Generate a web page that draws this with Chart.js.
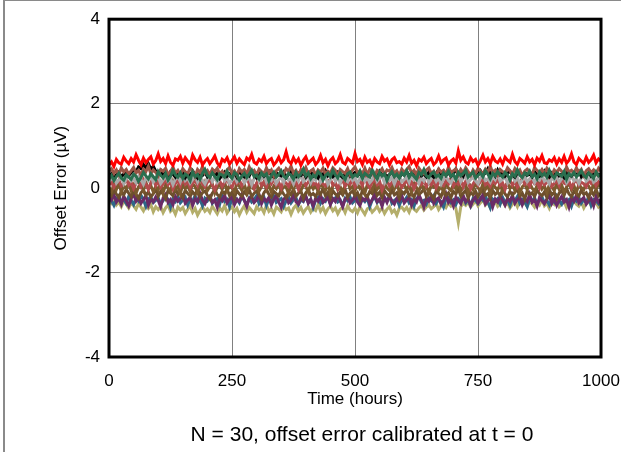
<!DOCTYPE html>
<html>
<head>
<meta charset="utf-8">
<script src="https://cdn.jsdelivr.net/npm/chart.js@4.4.1/dist/chart.umd.min.js"></script>
<style>
  html, body { margin: 0; padding: 0; background: #fff; }
  #wrap { position: relative; width: 621px; height: 452px; }
  #frame { position: absolute; left: 3px; top: 0; right: 0; bottom: 0; border-left: 2px solid #8a8a8a; border-top: 1px solid #8a8a8a; pointer-events: none; }
  canvas { position: absolute; left: 0; top: 0; }
</style>
</head>
<body>
<div id="wrap">
  <canvas id="driftChart" width="621" height="452"></canvas>
  <div id="frame"></div>
</div>
<script>
// time axis (hours)
const hours = [
    0, 5, 10, 15, 20, 25, 30, 35, 40, 45,
    50, 55, 60, 65, 70, 75, 80, 85, 90, 95,
    100, 105, 110, 115, 120, 125, 130, 135, 140, 145,
    150, 155, 160, 165, 170, 175, 180, 185, 190, 195,
    200, 205, 210, 215, 220, 225, 230, 235, 240, 245,
    250, 255, 260, 265, 270, 275, 280, 285, 290, 295,
    300, 305, 310, 315, 320, 325, 330, 335, 340, 345,
    350, 355, 360, 365, 370, 375, 380, 385, 390, 395,
    400, 405, 410, 415, 420, 425, 430, 435, 440, 445,
    450, 455, 460, 465, 470, 475, 480, 485, 490, 495,
    500, 505, 510, 515, 520, 525, 530, 535, 540, 545,
    550, 555, 560, 565, 570, 575, 580, 585, 590, 595,
    600, 605, 610, 615, 620, 625, 630, 635, 640, 645,
    650, 655, 660, 665, 670, 675, 680, 685, 690, 695,
    700, 705, 710, 715, 720, 725, 730, 735, 740, 745,
    750, 755, 760, 765, 770, 775, 780, 785, 790, 795,
    800, 805, 810, 815, 820, 825, 830, 835, 840, 845,
    850, 855, 860, 865, 870, 875, 880, 885, 890, 895,
    900, 905, 910, 915, 920, 925, 930, 935, 940, 945,
    950, 955, 960, 965, 970, 975, 980, 985, 990, 995,
    1000
];

const xTicks = [0, 250, 500, 750, 1000];
const yTicks = [-4, -2, 0, 2, 4];

// offset error per unit, µV
const unitRed = [
    0.55, 0.62, 0.51, 0.68, 0.60, 0.57, 0.73, 0.64, 0.58, 0.70,
    0.62, 0.79, 0.66, 0.55, 0.71, 0.60, 0.68, 0.74, 0.57, 0.65,
    0.81, 0.63, 0.70, 0.58, 0.76, 0.61, 0.54, 0.69, 0.66, 0.75,
    0.59, 0.72, 0.64, 0.56, 0.78, 0.67, 0.61, 0.73, 0.55, 0.64,
    0.70, 0.58, 0.66, 0.76, 0.60, 0.52, 0.68, 0.63, 0.72, 0.57,
    0.65, 0.74, 0.59, 0.69, 0.62, 0.56, 0.71, 0.66, 0.80, 0.61,
    0.57, 0.68, 0.63, 0.75, 0.58, 0.66, 0.70, 0.55, 0.62, 0.73,
    0.60, 0.67, 0.86, 0.64, 0.58, 0.72, 0.61, 0.69, 0.54, 0.66,
    0.74, 0.59, 0.65, 0.71, 0.56, 0.63, 0.77, 0.60, 0.68, 0.53,
    0.66, 0.72, 0.58, 0.64, 0.79, 0.61, 0.57, 0.70, 0.65, 0.59,
    0.82, 0.63, 0.68, 0.56, 0.73, 0.61, 0.66, 0.54, 0.70, 0.62,
    0.58, 0.75, 0.64, 0.69, 0.55, 0.67, 0.72, 0.60, 0.63, 0.57,
    0.71, 0.62, 0.77, 0.59, 0.66, 0.53, 0.68, 0.64, 0.73, 0.58,
    0.65, 0.70, 0.56, 0.62, 0.76, 0.60, 0.67, 0.71, 0.55, 0.64,
    0.69, 0.59, 0.88, 0.66, 0.74, 0.61, 0.57, 0.72, 0.63, 0.68,
    0.54, 0.65, 0.78, 0.62, 0.70, 0.58, 0.75, 0.64, 0.60, 0.69,
    0.57, 0.73, 0.66, 0.61, 0.80, 0.63, 0.56, 0.70, 0.65, 0.59,
    0.74, 0.62, 0.68, 0.55, 0.71, 0.64, 0.77, 0.60, 0.58, 0.67,
    0.63, 0.72, 0.57, 0.69, 0.61, 0.75, 0.59, 0.66, 0.81, 0.62,
    0.56, 0.70, 0.64, 0.58, 0.73, 0.61, 0.67, 0.78, 0.60, 0.69,
    0.64
];
const unitBlack = [
    0.28, 0.34, 0.22, 0.31, 0.38, 0.27, 0.33, 0.41, 0.30, 0.36,
    0.44, 0.39, 0.50, 0.46, 0.56, 0.48, 0.58, 0.45, 0.52, 0.40,
    0.35, 0.42, 0.31, 0.37, 0.28, 0.39, 0.33, 0.26, 0.36, 0.30,
    0.38, 0.25, 0.34, 0.29, 0.41, 0.32, 0.24, 0.35, 0.30, 0.37,
    0.27, 0.33, 0.40, 0.29, 0.35, 0.23, 0.31, 0.38, 0.28, 0.34,
    0.30, 0.36, 0.26, 0.42, 0.32, 0.27, 0.35, 0.29, 0.39, 0.31,
    0.24, 0.33, 0.37, 0.28, 0.34, 0.40, 0.30, 0.26, 0.36, 0.32,
    0.29, 0.38, 0.25, 0.33, 0.44, 0.31, 0.27, 0.35, 0.30, 0.37,
    0.26, 0.34, 0.39, 0.28, 0.32, 0.24, 0.36, 0.31, 0.41, 0.29,
    0.35, 0.27, 0.33, 0.38, 0.30, 0.25, 0.34, 0.40, 0.28, 0.32,
    0.37, 0.29, 0.35, 0.26, 0.43, 0.31, 0.28, 0.36, 0.33, 0.24,
    0.39, 0.30, 0.34, 0.27, 0.32, 0.38, 0.29, 0.35, 0.25, 0.33,
    0.31, 0.40, 0.28, 0.36, 0.30, 0.34, 0.42, 0.29, 0.33, 0.27,
    0.38, 0.31, 0.26, 0.35, 0.44, 0.33, 0.40, 0.30, 0.37, 0.28,
    0.34, 0.45, 0.32, 0.39, 0.29, 0.42, 0.35, 0.31, 0.38, 0.27,
    0.33, 0.41, 0.30, 0.36, 0.46, 0.34, 0.39, 0.29, 0.43, 0.32,
    0.37, 0.28, 0.35, 0.40, 0.31, 0.26, 0.36, 0.33, 0.29, 0.38,
    0.30, 0.34, 0.27, 0.39, 0.32, 0.28, 0.35, 0.41, 0.30, 0.26,
    0.36, 0.31, 0.38, 0.29, 0.33, 0.25, 0.37, 0.32, 0.28, 0.35,
    0.30, 0.39, 0.27, 0.34, 0.31, 0.36, 0.28, 0.33, 0.38, 0.30,
    0.34
];
const unitGreen = [
    0.22, 0.30, 0.18, 0.27, 0.35, 0.24, 0.19, 0.31, 0.26, 0.21,
    0.33, 0.28, 0.16, 0.25, 0.37, 0.29, 0.22, 0.34, 0.27, 0.20,
    0.39, 0.30, 0.24, 0.35, 0.19, 0.28, 0.42, 0.31, 0.26, 0.36,
    0.23, 0.33, 0.29, 0.18, 0.38, 0.27, 0.32, 0.21, 0.35, 0.44,
    0.30, 0.25, 0.36, 0.28, 0.20, 0.34, 0.31, 0.26, 0.40, 0.29,
    0.23, 0.37, 0.32, 0.19, 0.28, 0.35, 0.25, 0.33, 0.42, 0.27,
    0.31, 0.22, 0.36, 0.29, 0.34, 0.17, 0.30, 0.38, 0.26, 0.32,
    0.41, 0.28, 0.24, 0.35, 0.30, 0.21, 0.37, 0.27, 0.33, 0.45,
    0.29, 0.36, 0.22, 0.31, 0.26, 0.39, 0.33, 0.19, 0.30, 0.35,
    0.27, 0.42, 0.31, 0.24, 0.36, 0.29, 0.20, 0.34, 0.38, 0.26,
    0.32, 0.28, 0.40, 0.23, 0.35, 0.30, 0.26, 0.43, 0.31, 0.22,
    0.37, 0.29, 0.34, 0.18, 0.31, 0.39, 0.27, 0.33, 0.24, 0.36,
    0.30, 0.41, 0.26, 0.35, 0.28, 0.21, 0.37, 0.32, 0.44, 0.29,
    0.25, 0.34, 0.38, 0.27, 0.31, 0.23, 0.36, 0.30, 0.40, 0.28,
    0.33, 0.20, 0.37, 0.29, 0.35, 0.42, 0.26, 0.32, 0.38, 0.24,
    0.30, 0.36, 0.27, 0.41, 0.33, 0.22, 0.35, 0.29, 0.39, 0.31,
    0.26, 0.37, 0.32, 0.19, 0.34, 0.28, 0.43, 0.30, 0.25, 0.36,
    0.31, 0.40, 0.27, 0.33, 0.22, 0.38, 0.29, 0.35, 0.26, 0.42,
    0.30, 0.24, 0.36, 0.32, 0.28, 0.39, 0.21, 0.34, 0.29, 0.37,
    0.27, 0.33, 0.41, 0.30, 0.25, 0.36, 0.31, 0.23, 0.38, 0.29,
    0.33
];
const unitGray = [
    0.15, 0.22, 0.28, 0.12, 0.19, 0.25, 0.10, 0.21, 0.30, 0.17,
    0.23, 0.13, 0.27, 0.20, 0.09, 0.24, 0.18, 0.31, 0.14, 0.22,
    0.26, 0.11, 0.19, 0.29, 0.16, 0.23, 0.08, 0.21, 0.27, 0.15,
    0.32, 0.18, 0.24, 0.12, 0.20, 0.28, 0.14, 0.25, 0.19, 0.10,
    0.22, 0.30, 0.16, 0.26, 0.13, 0.21, 0.33, 0.17, 0.24, 0.11,
    0.19, 0.27, 0.15, 0.23, 0.29, 0.12, 0.20, 0.25, 0.08, 0.22,
    0.28, 0.16, 0.21, 0.31, 0.14, 0.24, 0.18, 0.27, 0.11, 0.20,
    0.25, 0.13, 0.30, 0.19, 0.23, 0.10, 0.26, 0.17, 0.32, 0.15,
    0.21, 0.28, 0.12, 0.24, 0.18, 0.29, 0.14, 0.22, 0.26, 0.09,
    0.19, 0.31, 0.16, 0.23, 0.12, 0.27, 0.20, 0.15, 0.29, 0.18,
    0.24, 0.11, 0.22, 0.30, 0.17, 0.25, 0.13, 0.20, 0.34, 0.16,
    0.23, 0.28, 0.12, 0.21, 0.18, 0.26, 0.10, 0.24, 0.29, 0.15,
    0.20, 0.27, 0.14, 0.32, 0.19, 0.23, 0.11, 0.25, 0.17, 0.30,
    0.13, 0.22, 0.28, 0.16, 0.24, 0.09, 0.21, 0.27, 0.18, 0.12,
    0.26, 0.19, 0.31, 0.15, 0.23, 0.28, 0.13, 0.20, 0.25, 0.17,
    0.10, 0.24, 0.29, 0.18, 0.22, 0.14, 0.27, 0.20, 0.33, 0.16,
    0.21, 0.26, 0.12, 0.23, 0.30, 0.17, 0.25, 0.11, 0.19, 0.28,
    0.15, 0.22, 0.27, 0.13, 0.24, 0.19, 0.31, 0.16, 0.21, 0.10,
    0.25, 0.18, 0.29, 0.14, 0.22, 0.26, 0.12, 0.20, 0.28, 0.17,
    0.23, 0.11, 0.24, 0.30, 0.16, 0.21, 0.27, 0.14, 0.19, 0.25,
    0.20
];
const unitRosy = [
    0.40, 0.46, 0.35, 0.43, 0.31, 0.48, 0.38, 0.44, 0.33, 0.41,
    0.49, 0.36, 0.42, 0.30, 0.45, 0.39, 0.52, 0.34, 0.43, 0.37,
    0.29, 0.44, 0.40, 0.47, 0.33, 0.38, 0.50, 0.35, 0.42, 0.31,
    0.46, 0.39, 0.34, 0.48, 0.41, 0.28, 0.44, 0.37, 0.51, 0.36,
    0.42, 0.32, 0.45, 0.39, 0.47, 0.34, 0.40, 0.29, 0.43, 0.49,
    0.35, 0.41, 0.30, 0.46, 0.38, 0.44, 0.33, 0.50, 0.37, 0.42,
    0.31, 0.45, 0.39, 0.34, 0.48, 0.36, 0.43, 0.28, 0.41, 0.47,
    0.38, 0.33, 0.46, 0.40, 0.52, 0.35, 0.42, 0.31, 0.44, 0.37,
    0.49, 0.34, 0.41, 0.45, 0.30, 0.43, 0.38, 0.47, 0.33, 0.40,
    0.36, 0.48, 0.42, 0.29, 0.44, 0.39, 0.35, 0.46, 0.31, 0.43,
    0.50, 0.37, 0.41, 0.34, 0.47, 0.32, 0.45, 0.39, 0.28, 0.42,
    0.38, 0.46, 0.33, 0.43, 0.40, 0.49, 0.35, 0.41, 0.30, 0.45,
    0.37, 0.44, 0.51, 0.36, 0.42, 0.31, 0.47, 0.39, 0.34, 0.43,
    0.48, 0.35, 0.40, 0.29, 0.45, 0.38, 0.42, 0.33, 0.50, 0.37,
    0.41, 0.46, 0.32, 0.44, 0.36, 0.48, 0.39, 0.30, 0.43, 0.35,
    0.47, 0.40, 0.34, 0.45, 0.38, 0.52, 0.36, 0.42, 0.31, 0.44,
    0.39, 0.35, 0.48, 0.41, 0.33, 0.46, 0.37, 0.43, 0.29, 0.40,
    0.45, 0.38, 0.32, 0.49, 0.42, 0.36, 0.44, 0.34, 0.47, 0.39,
    0.31, 0.43, 0.37, 0.46, 0.40, 0.33, 0.50, 0.38, 0.42, 0.35,
    0.48, 0.36, 0.44, 0.30, 0.41, 0.46, 0.37, 0.43, 0.34, 0.47,
    0.40
];
const unitIndian = [
    0.08, 0.15, 0.02, 0.12, 0.19, 0.05, 0.10, 0.22, 0.07, 0.14,
    -0.01, 0.11, 0.17, 0.04, 0.20, 0.09, -0.03, 0.13, 0.24, 0.06,
    0.16, 0.02, 0.10, 0.21, 0.08, 0.14, -0.02, 0.11, 0.18, 0.05,
    0.23, 0.09, 0.15, 0.01, 0.12, 0.19, 0.06, 0.25, 0.10, 0.03,
    0.14, 0.20, 0.07, -0.04, 0.11, 0.17, 0.04, 0.13, 0.22, 0.08,
    0.02, 0.16, 0.10, 0.19, 0.05, 0.12, 0.26, 0.09, 0.15, -0.01,
    0.11, 0.21, 0.06, 0.14, 0.03, 0.18, 0.10, 0.23, 0.07, 0.13,
    0.00, 0.17, 0.12, 0.04, 0.20, 0.09, 0.15, -0.03, 0.11, 0.19,
    0.06, 0.14, 0.24, 0.08, 0.12, 0.02, 0.18, 0.10, 0.05, 0.16,
    0.21, 0.07, 0.13, -0.02, 0.11, 0.19, 0.04, 0.15, 0.09, 0.22,
    0.03, 0.12, 0.17, 0.06, 0.25, 0.10, 0.01, 0.14, 0.20, 0.08,
    0.16, -0.04, 0.11, 0.18, 0.05, 0.13, 0.22, 0.07, 0.15, 0.02,
    0.10, 0.19, 0.06, 0.14, -0.01, 0.12, 0.23, 0.09, 0.17, 0.04,
    0.13, 0.08, 0.20, 0.01, 0.15, 0.11, 0.06, 0.18, 0.10, 0.24,
    0.05, 0.14, 0.09, 0.21, 0.03, 0.16, 0.12, -0.02, 0.10, 0.19,
    0.07, 0.15, 0.26, 0.08, 0.13, 0.04, 0.17, 0.11, 0.21, 0.06,
    0.12, -0.03, 0.14, 0.19, 0.07, 0.16, 0.02, 0.11, 0.23, 0.09,
    0.15, 0.05, 0.20, 0.10, 0.13, 0.00, 0.18, 0.08, 0.14, 0.22,
    0.04, 0.11, 0.17, 0.06, 0.24, 0.12, 0.09, 0.16, 0.01, 0.13,
    0.19, 0.07, 0.14, 0.10, 0.03, 0.18, 0.11, 0.21, 0.06, 0.15,
    0.10
];
const unitBrown = [
    0.02, -0.08, 0.09, -0.03, 0.13, -0.10, 0.05, 0.00, 0.11, -0.06,
    0.07, -0.12, 0.03, 0.10, -0.05, 0.14, -0.02, 0.06, -0.09, 0.04,
    -0.04, 0.12, -0.11, 0.08, 0.01, -0.07, 0.15, -0.03, 0.05, -0.13,
    0.09, -0.01, 0.06, -0.08, 0.11, 0.03, -0.10, 0.07, -0.04, 0.13,
    -0.06, 0.04, 0.10, -0.12, 0.02, 0.08, -0.03, 0.14, -0.07, 0.05,
    0.00, -0.09, 0.12, 0.04, -0.05, 0.09, -0.11, 0.06, 0.01, -0.02,
    0.11, -0.07, 0.03, 0.15, -0.04, 0.08, -0.10, 0.05, -0.01, 0.12,
    -0.08, 0.06, 0.02, -0.13, 0.09, -0.03, 0.13, 0.00, -0.06, 0.07,
    0.04, -0.10, 0.10, -0.02, 0.06, -0.08, 0.14, 0.01, -0.05, 0.09,
    -0.11, 0.05, 0.12, -0.04, 0.03, -0.09, 0.07, 0.16, -0.02, 0.04,
    -0.07, 0.10, -0.01, 0.06, -0.12, 0.08, 0.02, -0.05, 0.13, -0.03,
    0.05, -0.09, 0.11, 0.00, -0.06, 0.09, -0.02, 0.14, -0.10, 0.03,
    0.08, -0.04, 0.06, -0.11, 0.12, 0.01, -0.07, 0.10, -0.03, 0.05,
    -0.12, 0.07, 0.02, 0.13, -0.05, 0.04, -0.09, 0.11, 0.00, -0.06,
    0.09, -0.02, 0.15, -0.08, 0.03, 0.07, -0.11, 0.05, -0.04, 0.12,
    0.01, -0.07, 0.10, -0.03, 0.06, -0.13, 0.08, 0.02, -0.05, 0.11,
    -0.09, 0.04, 0.13, -0.01, 0.07, -0.06, 0.10, -0.10, 0.03, 0.09,
    -0.04, 0.12, 0.00, -0.08, 0.06, 0.14, -0.02, 0.05, -0.11, 0.08,
    0.03, -0.06, 0.11, -0.03, 0.07, -0.09, 0.02, 0.13, -0.05, 0.06,
    -0.10, 0.09, 0.01, -0.04, 0.12, 0.04, -0.07, 0.10, -0.02, 0.08,
    0.02
];
const unitDarkBrown = [
    -0.10, -0.18, -0.05, -0.14, -0.22, -0.08, -0.16, -0.03, -0.12, -0.20,
    -0.07, -0.15, -0.24, -0.11, -0.04, -0.17, -0.09, -0.21, -0.13, -0.02,
    -0.19, -0.08, -0.14, -0.25, -0.06, -0.12, -0.18, -0.01, -0.15, -0.10,
    -0.22, -0.05, -0.13, -0.19, -0.09, -0.16, -0.03, -0.20, -0.11, -0.07,
    -0.17, -0.26, -0.12, -0.04, -0.15, -0.21, -0.08, -0.13, -0.02, -0.18,
    -0.10, -0.23, -0.06, -0.14, -0.19, -0.09, -0.16, -0.04, -0.20, -0.12,
    -0.07, -0.17, -0.25, -0.11, -0.03, -0.15, -0.21, -0.08, -0.13, -0.18,
    -0.05, -0.14, -0.22, -0.10, -0.16, -0.02, -0.19, -0.12, -0.07, -0.24,
    -0.11, -0.04, -0.17, -0.13, -0.20, -0.08, -0.15, -0.01, -0.18, -0.10,
    -0.23, -0.06, -0.14, -0.19, -0.09, -0.16, -0.03, -0.21, -0.12, -0.07,
    -0.18, -0.11, -0.26, -0.05, -0.15, -0.20, -0.08, -0.13, -0.02, -0.17,
    -0.10, -0.22, -0.06, -0.14, -0.19, -0.04, -0.16, -0.11, -0.24, -0.08,
    -0.13, -0.03, -0.18, -0.12, -0.21, -0.07, -0.15, -0.10, -0.02, -0.19,
    -0.09, -0.16, -0.25, -0.06, -0.13, -0.20, -0.04, -0.17, -0.11, -0.22,
    -0.08, -0.14, -0.01, -0.19, -0.12, -0.05, -0.23, -0.10, -0.16, -0.07,
    -0.20, -0.11, -0.04, -0.17, -0.13, -0.24, -0.06, -0.15, -0.09, -0.18,
    -0.03, -0.14, -0.21, -0.08, -0.16, -0.10, -0.02, -0.19, -0.12, -0.26,
    -0.07, -0.15, -0.11, -0.20, -0.05, -0.13, -0.18, -0.09, -0.22, -0.04,
    -0.16, -0.10, -0.24, -0.12, -0.06, -0.17, -0.01, -0.14, -0.20, -0.08,
    -0.13, -0.19, -0.05, -0.15, -0.11, -0.23, -0.07, -0.16, -0.03, -0.18,
    -0.12
];
const unitPurple = [
    -0.20, -0.28, -0.16, -0.33, -0.24, -0.38, -0.19, -0.30, -0.42, -0.25,
    -0.14, -0.31, -0.22, -0.36, -0.27, -0.18, -0.40, -0.26, -0.33, -0.21,
    -0.29, -0.44, -0.23, -0.15, -0.34, -0.27, -0.39, -0.20, -0.31, -0.25,
    -0.17, -0.36, -0.28, -0.22, -0.41, -0.26, -0.32, -0.13, -0.29, -0.37,
    -0.24, -0.19, -0.34, -0.28, -0.45, -0.23, -0.30, -0.17, -0.35, -0.26,
    -0.21, -0.39, -0.27, -0.32, -0.16, -0.29, -0.43, -0.24, -0.20, -0.34,
    -0.28, -0.15, -0.37, -0.25, -0.31, -0.22, -0.40, -0.27, -0.18, -0.33,
    -0.46, -0.26, -0.21, -0.35, -0.29, -0.14, -0.32, -0.38, -0.23, -0.30,
    -0.19, -0.36, -0.27, -0.42, -0.24, -0.31, -0.17, -0.34, -0.28, -0.22,
    -0.39, -0.25, -0.32, -0.16, -0.30, -0.44, -0.26, -0.21, -0.35, -0.28,
    -0.18, -0.33, -0.41, -0.24, -0.29, -0.20, -0.37, -0.27, -0.15, -0.32,
    -0.26, -0.43, -0.22, -0.34, -0.19, -0.30, -0.38, -0.25, -0.31, -0.17,
    -0.35, -0.28, -0.21, -0.40, -0.26, -0.33, -0.16, -0.29, -0.45, -0.24,
    -0.31, -0.19, -0.36, -0.27, -0.23, -0.39, -0.30, -0.14, -0.34, -0.26,
    -0.42, -0.22, -0.29, -0.37, -0.18, -0.32, -0.25, -0.41, -0.28, -0.20,
    -0.35, -0.27, -0.16, -0.38, -0.30, -0.23, -0.44, -0.26, -0.33, -0.19,
    -0.29, -0.40, -0.24, -0.31, -0.17, -0.36, -0.27, -0.21, -0.39, -0.25,
    -0.32, -0.15, -0.34, -0.28, -0.43, -0.22, -0.30, -0.37, -0.26, -0.18,
    -0.36, -0.24, -0.41, -0.29, -0.20, -0.33, -0.27, -0.45, -0.23, -0.31,
    -0.17, -0.35, -0.28, -0.22, -0.38, -0.30, -0.25, -0.42, -0.19, -0.33,
    -0.27
];
const unitTeal = [
    -0.22, -0.30, -0.41, -0.25, -0.18, -0.33, -0.27, -0.36, -0.20, -0.29,
    -0.39, -0.24, -0.31, -0.17, -0.28, -0.43, -0.26, -0.21, -0.34, -0.29,
    -0.23, -0.37, -0.30, -0.19, -0.27, -0.45, -0.25, -0.32, -0.20, -0.35,
    -0.28, -0.22, -0.40, -0.26, -0.31, -0.18, -0.34, -0.27, -0.42, -0.24,
    -0.30, -0.21, -0.36, -0.29, -0.25, -0.38, -0.19, -0.32, -0.27, -0.44,
    -0.23, -0.31, -0.26, -0.35, -0.20, -0.29, -0.40, -0.24, -0.33, -0.27,
    -0.18, -0.37, -0.28, -0.22, -0.41, -0.26, -0.31, -0.19, -0.34, -0.29,
    -0.25, -0.43, -0.30, -0.21, -0.35, -0.27, -0.23, -0.39, -0.28, -0.32,
    -0.20, -0.34, -0.26, -0.46, -0.29, -0.22, -0.36, -0.25, -0.31, -0.18,
    -0.38, -0.27, -0.23, -0.33, -0.28, -0.42, -0.24, -0.30, -0.21, -0.35,
    -0.29, -0.19, -0.37, -0.26, -0.32, -0.24, -0.44, -0.28, -0.22, -0.34,
    -0.27, -0.40, -0.23, -0.30, -0.18, -0.36, -0.29, -0.25, -0.41, -0.27,
    -0.31, -0.22, -0.35, -0.28, -0.43, -0.25, -0.20, -0.33, -0.29, -0.38,
    -0.24, -0.30, -0.19, -0.36, -0.27, -0.32, -0.45, -0.26, -0.22, -0.34,
    -0.28, -0.39, -0.25, -0.31, -0.21, -0.35, -0.27, -0.42, -0.24, -0.30,
    -0.36, -0.23, -0.29, -0.19, -0.33, -0.47, -0.26, -0.31, -0.25, -0.38,
    -0.22, -0.34, -0.28, -0.41, -0.24, -0.30, -0.20, -0.36, -0.27, -0.32,
    -0.44, -0.25, -0.31, -0.23, -0.37, -0.28, -0.21, -0.35, -0.29, -0.40,
    -0.26, -0.33, -0.19, -0.30, -0.38, -0.24, -0.32, -0.27, -0.43, -0.25,
    -0.31, -0.22, -0.36, -0.28, -0.34, -0.20, -0.41, -0.27, -0.30, -0.37,
    -0.28
];
const unitKhaki = [
    -0.30, -0.36, -0.27, -0.40, -0.33, -0.44, -0.31, -0.38, -0.47, -0.35,
    -0.42, -0.50, -0.37, -0.45, -0.54, -0.41, -0.48, -0.39, -0.56, -0.44,
    -0.51, -0.43, -0.58, -0.47, -0.40, -0.55, -0.49, -0.62, -0.45, -0.52,
    -0.46, -0.60, -0.50, -0.42, -0.57, -0.48, -0.64, -0.53, -0.44, -0.55,
    -0.49, -0.58, -0.43, -0.52, -0.61, -0.47, -0.54, -0.41, -0.59, -0.50,
    -0.45, -0.56, -0.48, -0.63, -0.51, -0.42, -0.57, -0.46, -0.53, -0.60,
    -0.44, -0.52, -0.47, -0.58, -0.40, -0.55, -0.49, -0.61, -0.45, -0.50,
    -0.56, -0.43, -0.51, -0.47, -0.62, -0.48, -0.41, -0.54, -0.46, -0.59,
    -0.50, -0.44, -0.57, -0.48, -0.53, -0.39, -0.55, -0.46, -0.60, -0.49,
    -0.43, -0.54, -0.47, -0.61, -0.50, -0.45, -0.58, -0.42, -0.52, -0.56,
    -0.48, -0.59, -0.44, -0.53, -0.62, -0.49, -0.46, -0.57, -0.51, -0.43,
    -0.55, -0.47, -0.60, -0.50, -0.44, -0.58, -0.52, -0.64, -0.48, -0.45,
    -0.53, -0.46, -0.57, -0.42, -0.50, -0.55, -0.47, -0.41, -0.52, -0.45,
    -0.40, -0.49, -0.44, -0.37, -0.51, -0.42, -0.38, -0.46, -0.35, -0.43,
    -0.39, -0.48, -0.82, -0.44, -0.36, -0.41, -0.33, -0.45, -0.38, -0.30,
    -0.42, -0.35, -0.28, -0.40, -0.33, -0.46, -0.37, -0.31, -0.43, -0.36,
    -0.29, -0.41, -0.34, -0.47, -0.38, -0.32, -0.44, -0.27, -0.39, -0.35,
    -0.43, -0.31, -0.37, -0.45, -0.33, -0.40, -0.28, -0.42, -0.36, -0.48,
    -0.34, -0.39, -0.30, -0.44, -0.37, -0.32, -0.46, -0.35, -0.41, -0.29,
    -0.38, -0.43, -0.33, -0.47, -0.36, -0.30, -0.42, -0.39, -0.34, -0.45,
    -0.40
];

// first entry ends up on top
const units = [
    { values: unitRed, color: '#ff0000' },
    { values: unitGreen, color: '#2a6f4f' },
    { values: unitRosy, color: '#9b5546' },
    { values: unitBlack, color: '#000000' },
    { values: unitGray, color: '#a9a9a9' },
    { values: unitIndian, color: '#b34a4c' },
    { values: unitBrown, color: '#7b5a2e' },
    { values: unitDarkBrown, color: '#6d4f2d' },
    { values: unitPurple, color: '#6a2b66' },
    { values: unitTeal, color: '#2e6788' },
    { values: unitKhaki, color: '#b4ae6b' },
];

const FONT = 'Arial, "Liberation Sans", sans-serif';

const frameAndNote = {
    id: 'frameAndNote',
    afterDraw(chart) {
        const { ctx, chartArea: a } = chart;
        ctx.save();
        ctx.strokeStyle = '#000';
        ctx.lineWidth = 3;
        ctx.strokeRect(a.left, a.top, a.right - a.left, a.bottom - a.top);
        ctx.fillStyle = '#000';
        ctx.font = '21px ' + FONT;
        ctx.textAlign = 'center';
        ctx.textBaseline = 'middle';
        ctx.fillText('N = 30, offset error calibrated at t = 0', 362, 435);
        ctx.restore();
    }
};

new Chart(document.getElementById('driftChart'), {
    type: 'line',
    data: {
        datasets: units.map((u) => ({
            data: hours.map((h, i) => ({ x: h, y: u.values[i] })),
            borderColor: u.color,
            borderWidth: 3,
            pointRadius: 0,
            tension: 0,
            fill: false,
        })),
    },
    options: {
        responsive: false,
        animation: false,
        devicePixelRatio: 1,
        layout: { padding: { top: 17, right: 20, left: 0, bottom: 0 } },
        plugins: {
            legend: { display: false },
            tooltip: { enabled: false },
        },
        scales: {
            x: {
                type: 'linear',
                min: 0,
                max: 1000,
                afterBuildTicks: (scale) => { scale.ticks = xTicks.map((v) => ({ value: v })); },
                afterFit: (scale) => {
                    scale.height = 95;
                    scale.paddingLeft = 0;
                    scale.paddingRight = 0;
                },
                grid: { color: '#808080', lineWidth: 1, drawTicks: false },
                border: { display: false },
                ticks: {
                    color: '#000',
                    font: { family: FONT, size: 17 },
                    padding: 14,
                    maxRotation: 0,
                    callback: (v) => String(v),
                },
                title: {
                    display: true,
                    text: 'Time (hours)',
                    color: '#000',
                    font: { family: FONT, size: 17 },
                    padding: { top: 0, bottom: 42 },
                },
            },
            y: {
                type: 'linear',
                min: -4,
                max: 4,
                afterBuildTicks: (scale) => { scale.ticks = yTicks.map((v) => ({ value: v })); },
                afterFit: (scale) => { scale.width = 109; },
                grid: { color: '#808080', lineWidth: 1, drawTicks: false },
                border: { display: false },
                ticks: { color: '#000', font: { family: FONT, size: 17 }, padding: 9 },
                title: {
                    display: true,
                    text: 'Offset Error (\u00b5V)',
                    color: '#000',
                    font: { family: FONT, size: 17 },
                    padding: { top: 51, bottom: 0 },
                },
            },
        },
    },
    plugins: [frameAndNote],
});
</script>
</body>
</html>
